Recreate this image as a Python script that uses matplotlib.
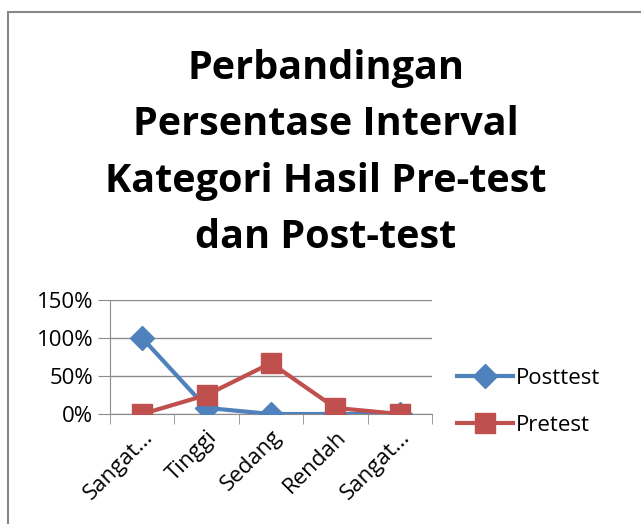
import matplotlib
matplotlib.use("Agg")
import matplotlib.pyplot as plt
from matplotlib.patches import Rectangle
from matplotlib.ticker import PercentFormatter

categories = ["Sangat...", "Tinggi", "Sedang", "Rendah", "Sangat..."]
posttest = [1.00, 0.08, 0.0, 0.0, 0.0]
pretest = [0.0, 0.25, 0.67, 0.08, 0.0]
yticks = [0, 0.5, 1.0, 1.5]

W, H = 641, 524
plt.rcParams["font.family"] = ["Open Sans", "DejaVu Sans"]

fig = plt.figure(figsize=(W / 100, H / 100), dpi=100)

# outer chart frame (runs off the right and bottom edges)
fig.patches.append(Rectangle((8 / W, -0.05), 1.1, (H - 12) / H + 0.05,
                             transform=fig.transFigure, fill=False,
                             edgecolor="#888888", lw=1.5))

fig.text(326 / W, 1 - 153 / H,
         "Perbandingan\nPersentase Interval\nKategori Hasil Pre-test\ndan Post-test",
         ha="center", va="center", fontsize=28.5, fontweight="bold",
         linespacing=1.57)

ax = fig.add_axes([110 / W, (H - 414) / H, 322 / W, 114 / H])
x = range(len(categories))
ax.plot(x, posttest, color="#4F81BD", lw=3, marker="D", ms=12,
        label="Posttest", zorder=3)
ax.plot(x, pretest, color="#C0504D", lw=3, marker="s", ms=14,
        label="Pretest", zorder=4)

ax.set_xlim(-0.5, len(categories) - 0.5)
ax.set_ylim(0, 1.5)
ax.set_yticks(yticks)
ax.yaxis.set_major_formatter(PercentFormatter(1.0, decimals=0))
ax.grid(axis="y", color="#8c8c8c", lw=1)
ax.set_axisbelow(True)
for s in ["top", "right"]:
    ax.spines[s].set_visible(False)
for s in ["left", "bottom"]:
    ax.spines[s].set_color("#8c8c8c")

ax.set_xticks(x)
ax.set_xticklabels(categories, rotation=45, ha="right",
                   rotation_mode="anchor", fontsize=16)
ax.set_xticks([i + 0.5 for i in range(-1, len(categories))], minor=True)
ax.tick_params(axis="x", which="major", length=0, pad=9)
ax.tick_params(axis="x", which="minor", length=7, color="#8c8c8c")
ax.tick_params(axis="y", length=9, color="#8c8c8c", labelsize=16, pad=3)

ax.legend(loc="center left", bbox_to_anchor=(437 / W, (H - 402) / H),
          bbox_transform=fig.transFigure, frameon=False, fontsize=16,
          handlelength=2.5, labelspacing=1.15, handletextpad=0.15)

fig.savefig("out.png", dpi=100)
